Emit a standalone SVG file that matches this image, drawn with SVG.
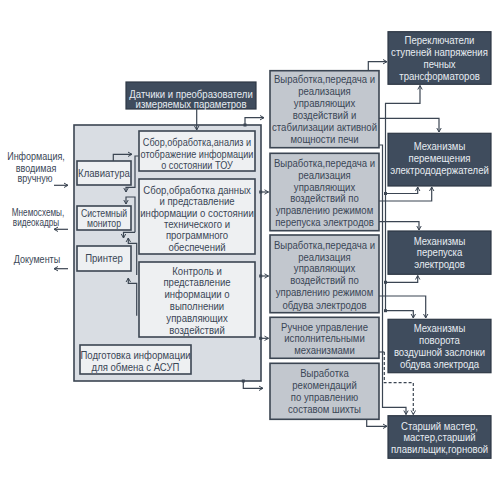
<svg xmlns="http://www.w3.org/2000/svg" width="500" height="495" viewBox="0 0 500 495">
<defs>
<style>
.ln{stroke:#3b4552;stroke-width:1.2;fill:none}
.dash{stroke-dasharray:3,2}
.dk{fill:#3f4c5d;stroke:#2e3845;stroke-width:1.2}
.md{fill:#c2c7ce;stroke:#3b4552;stroke-width:1.6}
.lt{fill:#eef0f2;stroke:#3b4552;stroke-width:1.6}
.ct{fill:#d9dde3;stroke:#3b4552;stroke-width:1.6}
.dot{fill:#3b4552}
text{font-family:"Liberation Sans",Arial,sans-serif;font-size:11px;fill:#3a4656;text-anchor:middle;transform-box:fill-box;transform-origin:center;transform:scaleX(0.87)}
text.w{fill:#e8edf2}
text.s{transform:scaleX(0.82)}
text.n{transform:scaleX(0.83)}
text.t{font-size:10px}
</style>
<marker id="a" viewBox="0 0 6 6" refX="5.5" refY="3" markerWidth="6" markerHeight="6" markerUnits="userSpaceOnUse" orient="auto">
<path d="M1.5,0.8 L5.5,3 L1.5,5.2" fill="none" stroke="#3b4552" stroke-width="1"/>
</marker>
</defs>
<rect width="500" height="495" fill="#ffffff"/>

<g id="container"><rect class="ct" x="74" y="125" width="187" height="256"/></g>

<g id="n-datchiki">
<rect class="dk" x="126" y="82" width="130" height="27"/>
<text class="w" x="191" y="98">Датчики и преобразователи</text>
<text class="w" x="191" y="108.5">измеряемых параметров</text>
</g>

<g id="n-box1">
<rect class="lt" x="139" y="131" width="116" height="40"/>
<text class="n" x="197" y="146.5">Сбор,обработка,анализ и</text>
<text class="n" x="197" y="158">отображение информации</text>
<text class="n" x="197" y="169">о состоянии ТОУ</text>
</g>

<g id="n-box2">
<rect class="lt" x="139" y="179" width="116" height="75"/>
<text x="197" y="194">Сбор,обработка данных</text>
<text x="197" y="205.3">и представление</text>
<text x="197" y="216.6">информации о состоянии</text>
<text x="197" y="228">технического и</text>
<text x="197" y="239.3">программного</text>
<text x="197" y="250.6">обеспечений</text>
</g>

<g id="n-box3">
<rect class="lt" x="139" y="262" width="116" height="75"/>
<text x="197" y="274.7">Контроль и</text>
<text x="197" y="286.3">представление</text>
<text x="197" y="298">информации о</text>
<text x="197" y="310">выполнении</text>
<text x="197" y="322">управляющих</text>
<text x="197" y="334">воздействий</text>
</g>

<g id="n-asup">
<rect class="lt" x="80" y="345" width="111" height="29"/>
<text x="135.5" y="359">Подготовка информации</text>
<text x="135.5" y="370.7">для обмена с АСУП</text>
</g>

<g id="n-keyboard">
<rect class="lt" x="77" y="161" width="54" height="24"/>
<text x="104" y="177">Клавиатура</text>
</g>

<g id="n-monitor">
<rect class="lt" x="77" y="206" width="54" height="24"/>
<text class="t" x="104" y="217.3">Системный</text>
<text class="t" x="104" y="226.8">монитор</text>
</g>

<g id="n-printer">
<rect class="lt" x="77" y="246" width="54" height="25"/>
<text x="104" y="262">Принтер</text>
</g>

<g id="n-left-labels">
<text class="s" x="36" y="160">Информация,</text>
<text class="s" x="36" y="172">вводимая</text>
<text class="s" x="35" y="182.5">вручную</text>
<text class="s t" x="38" y="216.3">Мнемосхемы,</text>
<text class="s t" x="36" y="225.8">видеокадры</text>
<text class="s" x="37" y="263">Документы</text>
</g>

<g id="n-m1">
<rect class="md" x="270" y="70.7" width="109" height="77"/>
<text x="324.5" y="83.5">Выработка,передача и</text>
<text x="324.5" y="95.4">реализация</text>
<text x="324.5" y="107.3">управляющих</text>
<text x="324.5" y="119.2">воздействий и</text>
<text x="324.5" y="131.1">стабилизации активной</text>
<text x="324.5" y="143">мощности печи</text>
</g>

<g id="n-m2">
<rect class="md" x="270" y="153.3" width="109" height="77.4"/>
<text x="324.5" y="167.3">Выработка,передача и</text>
<text x="324.5" y="179">реализация</text>
<text x="324.5" y="190.7">управляющих</text>
<text x="324.5" y="202.3">воздействий по</text>
<text x="324.5" y="214.5">управлению режимом</text>
<text x="324.5" y="226.3">перепуска электродов</text>
</g>

<g id="n-m3">
<rect class="md" x="270" y="235" width="109" height="77.7"/>
<text x="324.5" y="249">Выработка,передача и</text>
<text x="324.5" y="260.7">реализация</text>
<text x="324.5" y="272.3">управляющих</text>
<text x="324.5" y="284.5">воздействий по</text>
<text x="324.5" y="296.5">управлению режимом</text>
<text x="324.5" y="308.8">обдува электродов</text>
</g>

<g id="n-m4">
<rect class="md" x="270" y="317.3" width="109" height="41"/>
<text x="324.5" y="330.7">Ручное управление</text>
<text x="324.5" y="342.3">исполнительными</text>
<text x="324.5" y="354.5">механизмами</text>
</g>

<g id="n-m5">
<rect class="md" x="270" y="363.3" width="109" height="56"/>
<text x="324.5" y="376.7">Выработка</text>
<text x="324.5" y="389">рекомендаций</text>
<text x="324.5" y="401.2">по управлению</text>
<text x="324.5" y="413.2">составом шихты</text>
</g>

<g id="n-r1">
<rect class="dk" x="388" y="31.7" width="103" height="52.6"/>
<text class="w" x="439.5" y="44">Переключатели</text>
<text class="w" x="439.5" y="56.5">ступеней напряжения</text>
<text class="w" x="439.5" y="68">печных</text>
<text class="w" x="439.5" y="80">трансформаторов</text>
</g>

<g id="n-r2">
<rect class="dk" x="388" y="133.3" width="103" height="52.7"/>
<text class="w" x="439.5" y="150.5">Механизмы</text>
<text class="w" x="439.5" y="162.2">перемещения</text>
<text class="w" x="439.5" y="174">электрододержателей</text>
</g>

<g id="n-r3">
<rect class="dk" x="388" y="231" width="103" height="43.3"/>
<text class="w" x="439.5" y="245">Механизмы</text>
<text class="w" x="439.5" y="256.3">перепуска</text>
<text class="w" x="439.5" y="268">электродов</text>
</g>

<g id="n-r4">
<rect class="dk" x="388" y="319.3" width="103" height="53.4"/>
<text class="w" x="439.5" y="332.3">Механизмы</text>
<text class="w" x="439.5" y="344.5">поворота</text>
<text class="w" x="439.5" y="356.5">воздушной заслонки</text>
<text class="w" x="439.5" y="368">обдува электрода</text>
</g>

<g id="n-r5">
<rect class="dk" x="388" y="415.7" width="103" height="42.6"/>
<text class="w" x="439.5" y="430">Старший мастер,</text>
<text class="w" x="439.5" y="441.3">мастер,старший</text>
<text class="w" x="439.5" y="452.7">плавильщик,горновой</text>
</g>

<g id="connectors">
<path class="ln" marker-end="url(#a)" d="M196.7,109 V130"/>
<path class="ln" marker-end="url(#a)" d="M54,185.3 H68"/>
<path class="ln" marker-end="url(#a)" d="M68,229.3 H54"/>
<path class="ln" marker-end="url(#a)" d="M68,268.7 H54"/>
<path class="ln" marker-end="url(#a)" d="M113.3,161 V154.3 H132"/>
<path class="ln" marker-end="url(#a)" d="M138.5,156 H135 V187.3 H126 V192"/>
<path class="ln" marker-end="url(#a)" d="M135,232.3 V197 H126 V204"/>
<path class="ln" marker-end="url(#a)" d="M135,232.3 H123.5 V238"/>
<path class="ln" marker-end="url(#a)" d="M136.7,275 V243.3 H128.3 V238"/>
<path class="ln" marker-end="url(#a)" d="M136.7,315.7 V283.3 H128.3 V278"/>

<path class="ln" marker-end="url(#a)" d="M245,125 V117.7 H264"/>
<path class="ln" marker-end="url(#a)" d="M260.7,192 H268.5"/>
<path class="ln" marker-end="url(#a)" d="M260.7,276 H268.5"/>
<path class="ln" marker-end="url(#a)" d="M260.7,338.3 H268.5"/>
<path class="ln" marker-end="url(#a)" d="M243.3,381 V388.3 H263"/>
<rect class="dot" x="243.5" y="123.5" width="3" height="3"/>
<rect class="dot" x="259.2" y="190.5" width="3" height="3"/>
<rect class="dot" x="259.2" y="274.5" width="3" height="3"/>
<rect class="dot" x="259.2" y="336.8" width="3" height="3"/>
<rect class="dot" x="241.8" y="379.5" width="3" height="3"/>

<path class="ln" marker-end="url(#a)" d="M368.3,70.7 V61.7 H387"/>
<path class="ln" marker-end="url(#a)" d="M379,118.3 H439 V132"/>
<path class="ln" marker-end="url(#a)" d="M385.5,310.7 V103.3 H420 V85.5"/>
<path class="ln" marker-end="url(#a)" d="M385.5,193.5 H417.7 V187"/>
<path class="ln" marker-end="url(#a)" d="M385.5,282.3 H417.7 V275.5"/>
<path class="ln" marker-end="url(#a)" d="M385.5,310.7 H413.3 V318"/>
<path class="ln" marker-end="url(#a)" d="M379,201 H431.7 V187"/>
<path class="ln" marker-end="url(#a)" d="M379,221.7 H419 V230"/>
<path class="ln" marker-end="url(#a)" d="M379,296 H425.7 V318"/>
<path class="ln" marker-end="url(#a)" d="M379,145 H382.5 V407.3 H406 V414.5"/>
<path class="ln" d="M379,352 H384.3"/>
<path class="ln dash" marker-end="url(#a)" d="M384.3,352 V382.7 H413.3 V414.5"/>
<path class="ln" marker-end="url(#a)" d="M366.7,419.3 V426.3 H387"/>
<rect class="dot" x="384" y="192" width="3" height="3"/>
<rect class="dot" x="384" y="280.8" width="3" height="3"/>
<rect class="dot" x="384" y="309.2" width="3" height="3"/>
</g>
</svg>
